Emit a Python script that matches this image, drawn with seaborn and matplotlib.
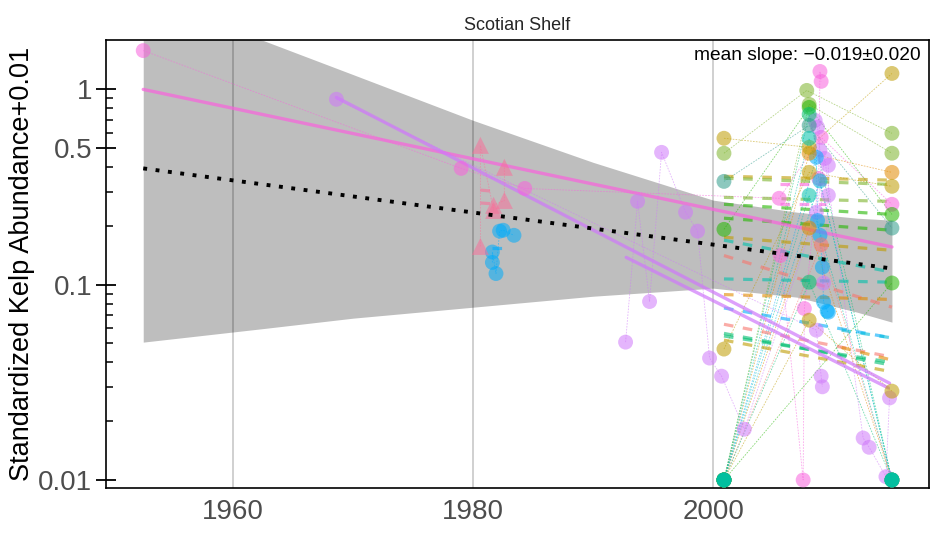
import numpy as np
import pandas as pd
import matplotlib
matplotlib.use("Agg")
import matplotlib.pyplot as plt
import seaborn as sns
from matplotlib.ticker import FixedLocator, FixedFormatter, NullFormatter

# ---------------- data ----------------
ribbon_years = [1952.5, 1962.5, 1970, 1980, 1990, 2000, 2007, 2012, 2014.9]
ribbon_upper = [3.06, 1.78, 1.19, 0.694, 0.423, 0.271, 0.235, 0.219, 0.214]
ribbon_lower = [0.0508, 0.0596, 0.0674, 0.0767, 0.0873, 0.096, 0.0863, 0.0723, 0.0643]

mean_years = [1952.5, 2014.9]
mean_vals = [0.394, 0.121]

palette = {
    "salmon": "#F8766D", "orange": "#E18A00", "olive": "#BE9C00", "lgreen": "#7CB32A",
    "green": "#24B700", "tgreen": "#00BE70", "teal": "#00C1AB", "cyan": "#00BBDA",
    "blue": "#00ACFC", "purple": "#CF78FA", "pink": "#F962DD", "rose": "#F8709A",
    "dteal": "#2E9C8A",
}

pink_long_years = [1952.5, 1979.0, 1984.3, 2005.5, 2009.0, 2014.9]
pink_long_vals = [1.58, 0.394, 0.311, 0.277, 0.568, 0.258]
pink_b_years = [2005.6, 2007.5, 2007.6, 2008.8, 2008.9, 2009.0]
pink_b_vals = [0.141, 0.01, 0.0755, 0.35, 1.236, 1.099]
rose_tri_years = [1980.6, 1980.6, 1981.7, 1981.7, 1982.6, 1982.6]
rose_tri_vals = [0.517, 0.157, 0.255, 0.240, 0.399, 0.270]
blue_early_years = [1981.6, 1981.6, 1981.9, 1982.2, 1982.5, 1983.4]
blue_early_vals = [0.147, 0.130, 0.114, 0.188, 0.190, 0.179]
purple_yr_years = [1992.7, 1993.7, 1994.7, 1995.7, 1997.7, 1998.7, 1999.7, 2000.7,
                   2002.6, 2008.6, 2009.3, 2012.5, 2013.0, 2014.4, 2014.7]
purple_yr_vals = [0.0508, 0.267, 0.082, 0.476, 0.235, 0.188, 0.0421, 0.034,
                  0.0182, 0.235, 0.443, 0.0164, 0.0147, 0.0104, 0.0263]
purple_old_years = [1968.6, 2008.6, 2009.0, 2009.1]
purple_old_vals = [0.89, 0.0585, 0.034, 0.030]
purple_c_years = [2008.5, 2008.7, 2008.9, 2009.2, 2009.6, 2009.6]
purple_c_vals = [0.694, 0.64, 0.488, 0.102, 0.408, 0.287]
blue_late_years = [2000.9, 2008.6, 2008.7, 2008.9, 2009.1, 2009.2, 2009.5, 2009.6]
blue_late_vals = [0.01, 0.449, 0.213, 0.179, 0.123, 0.0814, 0.0732, 0.0723]
lgreen_a_years = [2000.9, 2007.8, 2014.9]
lgreen_a_vals = [0.471, 0.988, 0.596]
lgreen_b_years = [2000.9, 2008.0, 2014.9]
lgreen_b_vals = [0.01, 0.838, 0.471]
olive_a_years = [2000.9, 2008.0, 2014.9]
olive_a_vals = [0.562, 0.505, 1.207]
olive_b_years = [2000.9, 2008.0, 2014.9]
olive_b_vals = [0.0468, 0.376, 0.319]
olive_c_years = [2000.9, 2008.0, 2014.9]
olive_c_vals = [0.01, 0.0658, 0.0285]
green_a_years = [2000.9, 2008.0, 2014.9]
green_a_vals = [0.192, 0.809, 0.229]
green_b_years = [2000.9, 2014.9]
green_b_vals = [0.01, 0.102]
tgreen_a_years = [2000.9, 2008.0, 2014.9]
tgreen_a_vals = [0.01, 0.745, 0.01]
tgreen_b_years = [2000.9, 2008.0, 2014.9]
tgreen_b_vals = [0.01, 0.103, 0.01]
orange_a_years = [2000.9, 2008.0, 2014.9]
orange_a_vals = [0.01, 0.471, 0.376]
orange_b_years = [2000.9, 2008.0, 2014.9]
orange_b_vals = [0.01, 0.195, 0.01]
salmon_a_years = [2000.9, 2009.0, 2014.9]
salmon_a_vals = [0.01, 0.16, 0.01]
cyan_a_years = [2000.9, 2008.9, 2014.9]
cyan_a_vals = [0.01, 0.34, 0.01]
teal_a_years = [2000.9, 2008.0, 2014.9]
teal_a_vals = [0.338, 0.654, 0.195]
teal_b_years = [2000.9, 2008.0, 2014.9]
teal_b_vals = [0.01, 0.562, 0.01]
teal_c_years = [2000.9, 2008.0, 2014.9]
teal_c_vals = [0.01, 0.287, 0.01]

site_list = [
    ("pink_long", "pink", "c", pink_long_years, pink_long_vals),
    ("rose_tri", "rose", "t", rose_tri_years, rose_tri_vals),
    ("blue_early", "blue", "c", blue_early_years, blue_early_vals),
    ("purple_old", "purple", "c", purple_old_years, purple_old_vals),
    ("purple_yr", "purple", "c", purple_yr_years, purple_yr_vals),
    ("purple_c", "purple", "c", purple_c_years, purple_c_vals),
    ("pink_b", "pink", "c", pink_b_years, pink_b_vals),
    ("blue_late", "blue", "c", blue_late_years, blue_late_vals),
    ("salmon_a", "salmon", "c", salmon_a_years, salmon_a_vals),
    ("orange_a", "orange", "c", orange_a_years, orange_a_vals),
    ("orange_b", "orange", "c", orange_b_years, orange_b_vals),
    ("olive_a", "olive", "c", olive_a_years, olive_a_vals),
    ("olive_b", "olive", "c", olive_b_years, olive_b_vals),
    ("olive_c", "olive", "c", olive_c_years, olive_c_vals),
    ("lgreen_a", "lgreen", "c", lgreen_a_years, lgreen_a_vals),
    ("lgreen_b", "lgreen", "c", lgreen_b_years, lgreen_b_vals),
    ("green_a", "green", "c", green_a_years, green_a_vals),
    ("green_b", "green", "c", green_b_years, green_b_vals),
    ("cyan_a", "cyan", "c", cyan_a_years, cyan_a_vals),
    ("tgreen_a", "tgreen", "c", tgreen_a_years, tgreen_a_vals),
    ("tgreen_b", "tgreen", "c", tgreen_b_years, tgreen_b_vals),
    ("teal_a", "dteal", "c", teal_a_years, teal_a_vals),
    ("teal_b", "teal", "c", teal_b_years, teal_b_vals),
    ("teal_c", "teal", "c", teal_c_years, teal_c_vals),
]

# fitted site trends: colour, start year, end year, start value, end value
trend_color = ["olive", "lgreen", "lgreen", "green", "green", "olive", "teal", "salmon",
               "teal", "orange", "blue", "salmon", "tgreen", "tgreen", "olive", "cyan",
               "orange", "pink", "pink", "rose", "rose", "blue"]
trend_x0 = [2000.9, 2000.9, 2000.9, 2000.9, 2000.9, 2000.9, 2000.9, 2000.9,
            2000.9, 2000.9, 2000.9, 2000.9, 2000.9, 2000.9, 2000.9, 2010.7,
            2010.7, 2005.6, 2005.6, 1980.6, 1980.6, 1981.6]
trend_x1 = [2014.9, 2014.9, 2014.9, 2014.9, 2014.9, 2014.9, 2014.9, 2014.9,
            2014.9, 2014.9, 2014.9, 2014.9, 2014.9, 2014.9, 2014.9, 2014.9,
            2014.9, 2009.4, 2009.4, 1981.9, 1982.2, 1982.6]
trend_v0 = [0.359, 0.351, 0.28, 0.258, 0.219, 0.175, 0.169, 0.141,
            0.107, 0.089, 0.076, 0.0627, 0.0563, 0.0546, 0.052, 0.0585,
            0.0477, 0.326, 0.258, 0.305, 0.262, 0.155]
trend_v1 = [0.343, 0.326, 0.267, 0.229, 0.19, 0.15, 0.116, 0.0767,
            0.103, 0.084, 0.0534, 0.0426, 0.0387, 0.040, 0.0358, 0.0534,
            0.0411, 0.326, 0.258, 0.300, 0.258, 0.155]

solid_color = ["pink", "purple", "purple"]
solid_x0 = [1952.5, 1968.6, 1992.75]
solid_x1 = [2014.9, 2014.7, 2014.6]
solid_v0 = [1.0, 0.91, 0.138]
solid_v1 = [0.156, 0.0313, 0.0296]

x_ticks = [1960, 1980, 2000]
y_ticks = [0.01, 0.1, 0.5, 1]
y_tick_labels = ["0.01", "0.1", "0.5", "1"]
y_minor = [0.02, 0.03, 0.04, 0.05, 0.06, 0.07, 0.08, 0.09,
           0.2, 0.3, 0.4, 0.6, 0.7, 0.8, 0.9]

# ---------------- build tables ----------------
rows = []
for name, col, shp, yrs, vals in site_list:
    for x, v in zip(yrs, vals):
        rows.append({"site": name, "col": col, "shape": shp, "year": x, "value": v})
pts = pd.DataFrame(rows)
site_pal = {name: palette[col] for name, col, shp, yrs, vals in site_list}

trend_rows = []
for i, (c, x0, x1, v0, v1) in enumerate(zip(trend_color, trend_x0, trend_x1, trend_v0, trend_v1)):
    trend_rows.append({"tid": f"t{i}", "year": x0, "value": v0})
    trend_rows.append({"tid": f"t{i}", "year": x1, "value": v1})
trends = pd.DataFrame(trend_rows)
trend_pal = {f"t{i}": palette[c] for i, c in enumerate(trend_color)}

solid_rows = []
for i, (c, x0, x1, v0, v1) in enumerate(zip(solid_color, solid_x0, solid_x1, solid_v0, solid_v1)):
    solid_rows.append({"sid": f"s{i}", "year": x0, "value": v0})
    solid_rows.append({"sid": f"s{i}", "year": x1, "value": v1})
solids = pd.DataFrame(solid_rows)
solid_pal = {f"s{i}": palette[c] for i, c in enumerate(solid_color)}

# ---------------- plot ----------------
sns.set_theme(style="white")
plt.rcParams["font.family"] = ["Liberation Sans", "DejaVu Sans"]

fig = plt.figure(figsize=(9.31, 5.35), dpi=100)
ax = fig.add_axes([0.1139, 0.0879, 0.8841, 0.8373])
ax.set_yscale("log")

ax.fill_between(ribbon_years, ribbon_lower, ribbon_upper, color="#BEBEBE", lw=0, zorder=0)
for xt in x_ticks:
    ax.axvline(xt, color="black", alpha=0.2, lw=1.3, zorder=0.5)

sns.lineplot(data=pts, x="year", y="value", hue="site", palette=site_pal,
             estimator=None, sort=True, legend=False, ax=ax,
             lw=0.6, alpha=0.55, ls=(0, (2, 1.5)), zorder=1)

sns.lineplot(data=trends, x="year", y="value", hue="tid", palette=trend_pal,
             estimator=None, legend=False, ax=ax, lw=2.3, alpha=0.6,
             ls=(0, (3, 3)), zorder=2)
sns.lineplot(data=solids, x="year", y="value", hue="sid", palette=solid_pal,
             estimator=None, legend=False, ax=ax, lw=2.4, alpha=0.7, zorder=2)

circ = pts[pts["shape"] == "c"]
tri = pts[pts["shape"] == "t"]
sns.scatterplot(data=circ, x="year", y="value", hue="site", palette=site_pal,
                marker="o", s=115, alpha=0.55, linewidth=0, legend=False, ax=ax, zorder=3)
sns.scatterplot(data=tri, x="year", y="value", hue="site", palette=site_pal,
                marker="^", s=150, alpha=0.55, linewidth=0, legend=False, ax=ax, zorder=3)

ax.plot(mean_years, mean_vals, color="black", lw=2.8,
        ls=(0, (1, 2.2)), dash_capstyle="butt", zorder=4)

ax.set_xlim(1949.4, 2018.0)
ax.set_ylim(0.0091, 1.79)
ax.set_xticks(x_ticks)
ax.set_xticklabels([str(t) for t in x_ticks])
ax.yaxis.set_major_locator(FixedLocator(y_ticks))
ax.yaxis.set_major_formatter(FixedFormatter(y_tick_labels))
ax.yaxis.set_minor_locator(FixedLocator(y_minor))
ax.yaxis.set_minor_formatter(NullFormatter())

ax.tick_params(axis="x", length=0, labelsize=20, colors="#4D4D4D", pad=8)
ax.tick_params(axis="y", which="major", direction="inout", length=14, width=1.3,
               color="black", labelcolor="#4D4D4D", labelsize=20, pad=3)
ax.tick_params(axis="y", which="minor", direction="in", length=5, width=1.1, color="black")
ax.tick_params(left=True, which="both")

for sp in ax.spines.values():
    sp.set_color("black")
    sp.set_linewidth(1.2)

ax.set_xlabel("")
ax.set_ylabel("Standardized Kelp Abundance+0.01", fontsize=19.5, color="black", labelpad=2)
ax.set_title("Scotian Shelf", fontsize=13, pad=7)
ax.text(0.99, 0.985, "mean slope: \u22120.019\u00b10.020", transform=ax.transAxes,
        ha="right", va="top", fontsize=13.8, color="black")

fig.savefig("out.png", dpi=100)
